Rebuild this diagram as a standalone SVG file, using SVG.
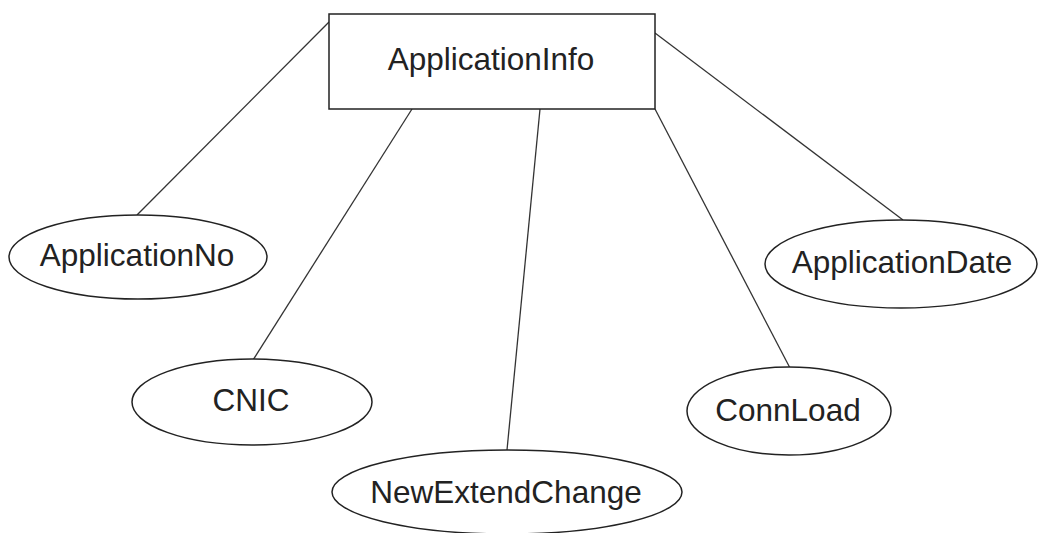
<svg xmlns="http://www.w3.org/2000/svg" width="1038" height="533" viewBox="0 0 1038 533">
<style>
.shape{fill:#fff;stroke:#222;stroke-width:1.5}
.conn line{stroke:#333;stroke-width:1.3}
text{font-family:"Liberation Sans",Arial,sans-serif;font-size:31.5px;fill:#222;text-anchor:middle}
</style>
<rect width="1038" height="533" fill="#fff"/>
<g id="connectors" class="conn">
<line x1="329" y1="22" x2="137" y2="215"/>
<line x1="412" y1="109" x2="253" y2="360"/>
<line x1="540" y1="109" x2="507" y2="450"/>
<line x1="655" y1="109" x2="790" y2="368"/>
<line x1="655" y1="33" x2="903" y2="220"/>
</g>
<g id="ApplicationInfo">
<rect class="shape" x="329" y="14" width="326" height="95"/>
<text x="491" y="70">ApplicationInfo</text>
</g>
<g id="ApplicationNo">
<ellipse class="shape" cx="138" cy="257" rx="129" ry="42"/>
<text x="137" y="266">ApplicationNo</text>
</g>
<g id="ApplicationDate">
<ellipse class="shape" cx="901" cy="264" rx="136" ry="44"/>
<text x="902" y="273">ApplicationDate</text>
</g>
<g id="CNIC">
<ellipse class="shape" cx="252" cy="402" rx="120" ry="43"/>
<text x="251" y="411">CNIC</text>
</g>
<g id="ConnLoad">
<ellipse class="shape" cx="789" cy="411" rx="102" ry="44"/>
<text x="788" y="421">ConnLoad</text>
</g>
<g id="NewExtendChange">
<ellipse class="shape" cx="507" cy="492" rx="175" ry="42"/>
<text x="506" y="503">NewExtendChange</text>
</g>
</svg>
